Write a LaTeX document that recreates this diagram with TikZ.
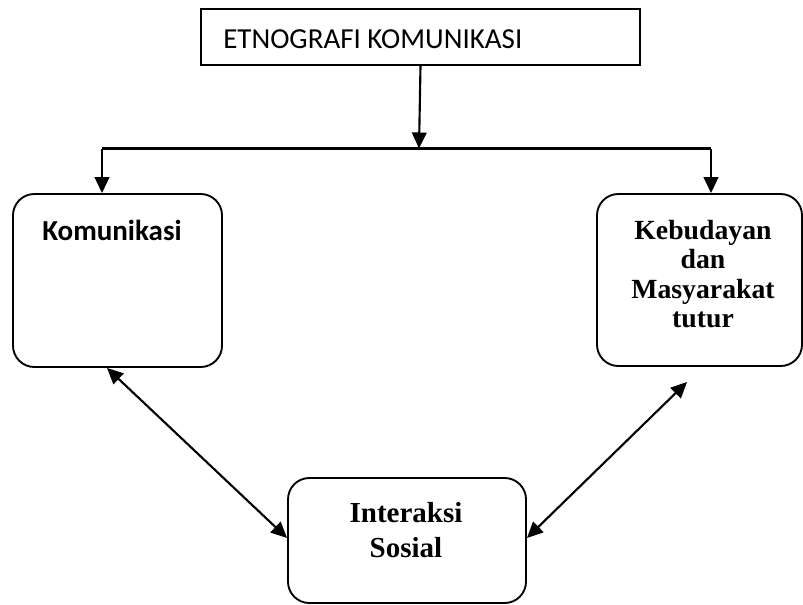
\documentclass[tikz,border=0pt]{standalone}
\usepackage{fontspec}
\setmainfont{Liberation Serif}
\newfontfamily\calib{Carlito}
\usetikzlibrary{arrows.meta}
\tikzset{
  boxline/.style={draw=black, line width=1.4pt, inner sep=0pt},
  rbox/.style={boxline, rounded corners=16pt},
  plainbox/.style={boxline},
  txt/.style={inner sep=0pt},
  tip/.style={},
  conn/.style={line width=1.6pt, -{Triangle[length=12pt,width=11pt]}},
  dconn/.style={line width=1.6pt, {Triangle[length=12pt,width=11pt]}-{Triangle[length=12pt,width=11pt]}},
  plainline/.style={line width=1.6pt}
}
\begin{document}
\begin{tikzpicture}[x=0.75pt,y=-0.75pt]
\useasboundingbox (0,0) rectangle (803,604);
% boxes
\node[plainbox, minimum width=329.25pt, minimum height=42pt] (tbox) at (420.5,37) {};
\node[rbox, minimum width=156.75pt, minimum height=129.75pt] (lbox) at (117.5,280.5) {};
\node[rbox, minimum width=153.75pt, minimum height=129pt] (rbox) at (699.5,280) {};
\node[rbox, minimum width=178.5pt, minimum height=93.75pt] (bbox) at (407,540.5) {};
% texts
\node[txt, anchor=base west, font=\calib\fontsize{21.75}{26}\selectfont] (ttext) at (223,48) {ETNOGRAFI KOMUNIKASI};
\node[txt, anchor=base west, font=\calib\bfseries\fontsize{21.75}{26}\selectfont] (ltext) at (42,240) {Komunikasi};
\node[txt, align=center, font=\bfseries\fontsize{20.8}{22}\selectfont] (rtext) at (703,274) {Kebudayan\\dan\\Masyarakat\\tutur};
\node[txt, align=center, font=\bfseries\fontsize{21.75}{26}\selectfont] (btext) at (406,530) {Interaksi\\Sosial};
% connector coordinates
\coordinate (j) at (419,148.5);
\coordinate (hl) at (102,148.5);
\coordinate (hr) at (711,148.5);
\coordinate (la) at (107,368);
\coordinate (lb) at (287,538);
\coordinate (ra) at (687,382);
\coordinate (rb) at (526,538);
% connectors
\draw[conn] (tbox.south) -- (j);
\draw[plainline] (hl) -- (hr);
\draw[conn] (hl) -- (hl |- lbox.north);
\draw[conn] (hr) -- (hr |- rbox.north);
\draw[dconn] (la |- lbox.south) -- (bbox.west |- lb);
\draw[dconn] (ra) -- (bbox.east |- rb);
\end{tikzpicture}
\end{document}
